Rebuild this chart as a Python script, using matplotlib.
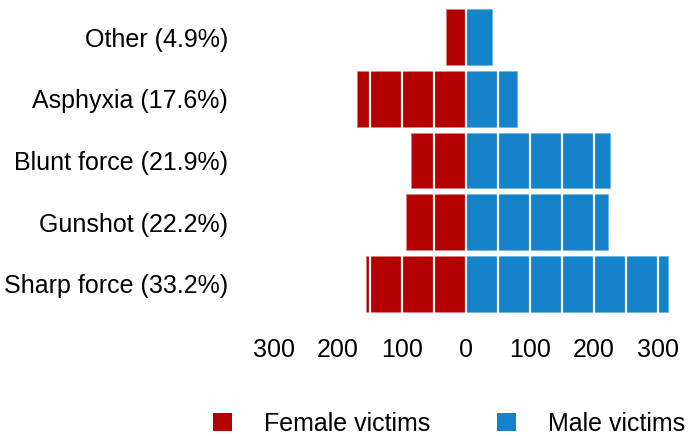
import matplotlib
matplotlib.use("Agg")
import matplotlib.pyplot as plt
from matplotlib.patches import Patch

categories = ["Sharp force (33.2%)", "Gunshot (22.2%)", "Blunt force (21.9%)", "Asphyxia (17.6%)", "Other (4.9%)"]
female = [156, 93, 86, 170, 31]
male = [316, 222, 225, 80, 40]
xticks = [-300, -200, -100, 0, 100, 200, 300]
xticklabels = ["300", "200", "100", "0", "100", "200", "300"]

red = "#b30000"
blue = "#1483c9"

plt.rcParams['font.family'] = ['Liberation Sans', 'DejaVu Sans']
fig = plt.figure(figsize=(6.93, 4.36), dpi=100)
W, H = 693, 436
x0, x1 = -310, 330
px0 = 466 + 0.64 * x0
px1 = 466 + 0.64 * x1
ax = fig.add_axes([px0 / W, (H - 321) / H, (px1 - px0) / W, 321 / H])

y = list(range(len(categories)))
ax.barh(y, [-f for f in female], height=0.9, color=red, edgecolor="#e08080", linewidth=0.6, zorder=2)
ax.barh(y, male, height=0.9, color=blue, edgecolor="#70b5e5", linewidth=0.6, zorder=2)

for gx in range(-300, 351, 50):
    ax.axvline(gx, color="white", linewidth=1.6, zorder=3)

ax.set_xlim(x0, x1)
ax.set_ylim(-0.6, 4.6)
ax.set_yticks(y)
ax.set_yticklabels(categories, fontsize=18)
ax.set_xticks(xticks)
ax.set_xticklabels(xticklabels, fontsize=18)
ax.tick_params(axis="both", length=0)
ax.tick_params(axis="x", pad=12)
ax.tick_params(axis="y", pad=28.5)
for s in ax.spines.values():
    s.set_visible(False)

handles = [Patch(facecolor=red, label="Female victims"), Patch(facecolor=blue, label="Male victims")]
fig.legend(handles=handles, loc="lower left", bbox_to_anchor=(212.7 / W, 0.5 / H), ncol=2, frameon=False,
           fontsize=18, handlelength=0.76, handleheight=0.76, handletextpad=1.28, columnspacing=2.68,
           borderpad=0, borderaxespad=0)

fig.savefig("out.png", dpi=100)
